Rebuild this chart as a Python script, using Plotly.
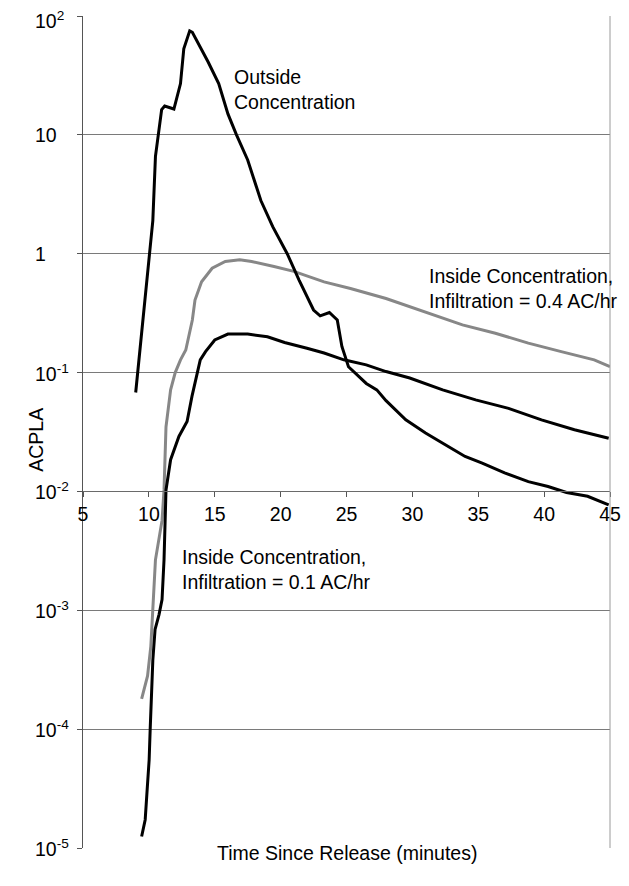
import plotly.graph_objects as go

# Outside concentration (black)
out_t = [9.0, 9.7, 10.0, 10.3, 10.5, 10.7, 10.97, 11.2, 11.9, 12.4, 12.65, 13.1, 13.3,
         14.5, 15.3, 16.0, 16.65, 17.5, 18.5, 19.4, 20.5, 21.4, 22.5, 23.0, 23.7, 24.3,
         24.65, 25.15, 26.5, 27.3, 28.0, 29.5, 31.0, 32.5, 34.0, 35.3, 37.0, 38.8, 40.3,
         41.7, 43.3, 44.9]
out_v = [0.068, 0.41, 1.0, 1.9, 6.6, 10.0, 16.3, 17.5, 16.5, 27, 53, 75, 73,
         41, 27, 15, 10, 6.15, 2.8, 1.69, 1.0, 0.60, 0.336, 0.30, 0.32, 0.277,
         0.166, 0.112, 0.081, 0.0715, 0.058, 0.040, 0.031, 0.0247, 0.0197, 0.0173, 0.0143, 0.0121, 0.011,
         0.0098, 0.0091, 0.0077]

# Inside concentration, infiltration 0.1 AC/hr (black)
in1_t = [9.45, 9.72, 9.87, 10.02, 10.1, 10.2, 10.3, 10.47, 10.77, 11.0, 11.15, 11.3, 11.65,
         12.28, 12.9, 13.27, 13.65, 13.9, 14.3, 15.0, 16.0, 17.5, 19.0, 20.3, 22.0, 23.3,
         24.8, 26.5, 28.0, 29.8, 32.3, 34.8, 37.3, 39.8, 42.3, 44.9]
in1_v = [1.25e-5, 1.73e-5, 3.1e-5, 5.5e-5, 1e-4, 1.77e-4, 3.8e-4, 6.9e-4, 9.2e-4, 1.23e-3, 2.66e-3, 0.0103, 0.0185,
         0.029, 0.0387, 0.063, 0.1, 0.128, 0.150, 0.188, 0.211, 0.211, 0.20, 0.179, 0.16, 0.146,
         0.128, 0.116, 0.102, 0.090, 0.0716, 0.0589, 0.050, 0.040, 0.033, 0.028]

# Inside concentration, infiltration 0.4 AC/hr (gray)
in4_t = [9.45, 9.9, 10.15, 10.3, 10.5, 11.0, 11.15, 11.3, 11.65, 12.0, 12.4, 12.8, 13.3,
         13.5, 14.0, 14.8, 15.8, 16.9, 17.8, 19.5, 21.0, 23.3, 25.3, 28.0, 31.3, 33.8,
         36.3, 38.8, 41.3, 43.8, 45.0]
in4_v = [1.8e-4, 2.8e-4, 5e-4, 1e-3, 2.66e-3, 5.7e-3, 0.0103, 0.035, 0.0716, 0.1, 0.128, 0.155, 0.277,
         0.408, 0.58, 0.755, 0.86, 0.89, 0.86, 0.78, 0.71, 0.58, 0.51, 0.42, 0.316, 0.252,
         0.214, 0.177, 0.150, 0.128, 0.112]

y_exps = [2, 1, 0, -1, -2, -3, -4, -5]
y_labels = ["10<sup>2</sup>", "10", "1", "10<sup>-1</sup>", "10<sup>-2</sup>",
            "10<sup>-3</sup>", "10<sup>-4</sup>", "10<sup>-5</sup>"]
x_ticks = [5, 10, 15, 20, 25, 30, 35, 40, 45]

FONT = "Liberation Sans, Arial, sans-serif"
FS = 19.5

fig = go.Figure()
fig.add_trace(go.Scatter(x=in4_t, y=in4_v, mode="lines",
                         line=dict(color="#878787", width=3), showlegend=False))
fig.add_trace(go.Scatter(x=in1_t, y=in1_v, mode="lines",
                         line=dict(color="#000000", width=3), showlegend=False))
fig.add_trace(go.Scatter(x=out_t, y=out_v, mode="lines",
                         line=dict(color="#000000", width=3), showlegend=False))

# page body has an 8px margin; figure placed at (8, 8)
OFF = 8
W, H = 629 - OFF, 886 - OFF
L, R, T, B = 83 - OFF, 12, 16 - OFF, 38
pw = W - L - R
ph = H - T - B

def px_to_paper_x(px):
    return (px - OFF - L) / pw

def px_to_paper_y(py):
    return (H - B - (py - OFF)) / ph

annotations = []
for e, lab in zip(y_exps, y_labels):
    annotations.append(dict(x=px_to_paper_x(32), xref="paper", y=e, yref="y",
                            text=lab, showarrow=False, xanchor="left", yanchor="middle",
                            yshift=(-4 if e == max(y_exps) else 0),
                            font=dict(family=FONT, size=FS, color="#000")))
annotations.append(dict(x=px_to_paper_x(22), xref="paper", y=px_to_paper_y(440), yref="paper",
                        text="ACPLA", textangle=-90, showarrow=False,
                        font=dict(family=FONT, size=FS, color="#000")))
annotations.append(dict(x=0.5, xref="paper", y=px_to_paper_y(866), yref="paper",
                        text="Time Since Release (minutes)", showarrow=False,
                        font=dict(family=FONT, size=FS, color="#000")))
annotations.append(dict(x=16.3, xref="x", y=1.378, yref="y",
                        text="Outside<br>Concentration", showarrow=False, align="left",
                        xanchor="left", yanchor="middle",
                        font=dict(family=FONT, size=FS, color="#000")))
annotations.append(dict(x=31.14, xref="x", y=-0.29, yref="y",
                        text="Inside Concentration,<br>Infiltration = 0.4 AC/hr", showarrow=False,
                        align="left", xanchor="left", yanchor="middle",
                        font=dict(family=FONT, size=FS, color="#000")))
annotations.append(dict(x=12.39, xref="x", y=-2.658, yref="y",
                        text="Inside Concentration,<br>Infiltration = 0.1 AC/hr", showarrow=False,
                        align="left", xanchor="left", yanchor="middle",
                        font=dict(family=FONT, size=FS, color="#000")))

fig.update_layout(
    width=W, height=H,
    margin=dict(l=L, r=R, t=T, b=B, pad=0),
    paper_bgcolor="white", plot_bgcolor="white",
    font=dict(family=FONT, size=FS, color="#000"),
    annotations=annotations,
    shapes=[dict(type="line", xref="paper", yref="paper", x0=1, x1=1, y0=0, y1=1,
                 line=dict(color="#9a9a9a", width=1))],
    xaxis=dict(range=[5, 45], tickvals=x_ticks, ticktext=[str(v) for v in x_ticks],
               ticks="outside", ticklen=5, tickcolor="#555", showgrid=False,
               showline=True, linecolor="#6a6a6a", linewidth=1,
               anchor="free", position=3/7, zeroline=False,
               tickfont=dict(family=FONT, size=FS, color="#000")),
    yaxis=dict(type="log", range=[-5, 2], tickvals=[10.0**e for e in y_exps],
               showticklabels=False, ticks="outside", ticklen=5, tickcolor="#555",
               showgrid=True, gridcolor="#7a7a7a", gridwidth=1,
               showline=True, linecolor="#555", linewidth=1, zeroline=False),
)

fig.write_html("out.html")
